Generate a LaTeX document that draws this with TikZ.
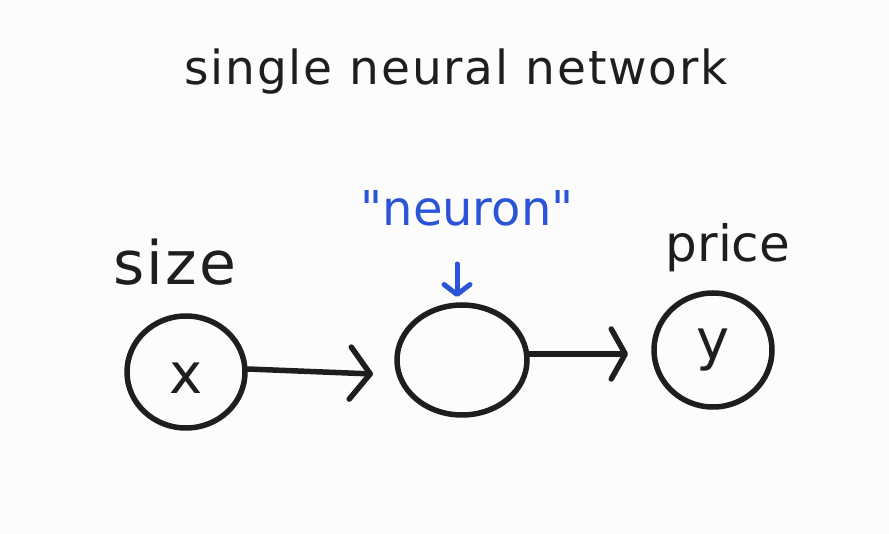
\documentclass[tikz,border=0pt]{standalone}
\usepackage{fontspec}
\setmainfont{DejaVu Sans}
\usetikzlibrary{arrows.meta,shapes.geometric}
\definecolor{ink}{HTML}{1E1E1E}
\definecolor{bluink}{HTML}{2B55D6}
\definecolor{paper}{HTML}{FCFCFC}
\tikzset{
  stroke/.style={draw=ink, line width=5.5pt, line cap=round, line join=round},
  hand/.style={text=ink, inner sep=0pt},
}
\begin{document}
\begin{tikzpicture}[x=1pt,y=-1pt]
\fill[paper] (0,0) rectangle (889,534);
\useasboundingbox (0,0) rectangle (889,534);
% title
\node[hand, font=\fontsize{47}{52}\selectfont\addfontfeatures{LetterSpace=4}] (title) at (456,72) {single neural network};
% labels
\node[hand, font=\fontsize{60}{64}\selectfont\addfontfeatures{LetterSpace=4}] (size) at (175,262) {size};
\node[hand, font=\fontsize{50}{56}\selectfont] (price) at (728,248) {price};
\node[inner sep=0pt, text=bluink, font=\fontsize{48}{52}\selectfont\addfontfeatures{Ligatures=TeXOff}] (neuronlbl) at (467,208) {"neuron"};
% circles
\node[stroke, ellipse, minimum width=118pt, minimum height=112pt, inner sep=0pt] (xc) at (186,372) {};
\node[hand, font=\fontsize{56}{60}\selectfont] (xlbl) at ([yshift=-6pt]xc.center) {x};
\node[stroke, ellipse, minimum width=130pt, minimum height=110pt, inner sep=0pt] (nc) at (462,360) {};
\node[stroke, ellipse, minimum width=118pt, minimum height=114pt, inner sep=0pt] (yc) at (713,350) {};
\node[hand, font=\fontsize{56}{60}\selectfont] (ylbl) at (yc) {y};
% arrows
\coordinate (a1e) at (373,374);
\draw[stroke, -{Straight Barb[length=20pt,width=52pt,round]}] (xc.east) ++(0,-3) -- (a1e);
\coordinate (a2e) at (628,354);
\draw[stroke, -{Straight Barb[length=14pt,width=50pt,round]}] (nc.east) ++(0,-6) -- (a2e);
% blue arrow
\coordinate (bs) at (457,264);
\coordinate (be) at (457,297);
\draw[draw=bluink, line width=5pt, line cap=round, -{Straight Barb[length=10pt,width=26pt,round]}] (bs) -- (be);
\end{tikzpicture}
\end{document}
